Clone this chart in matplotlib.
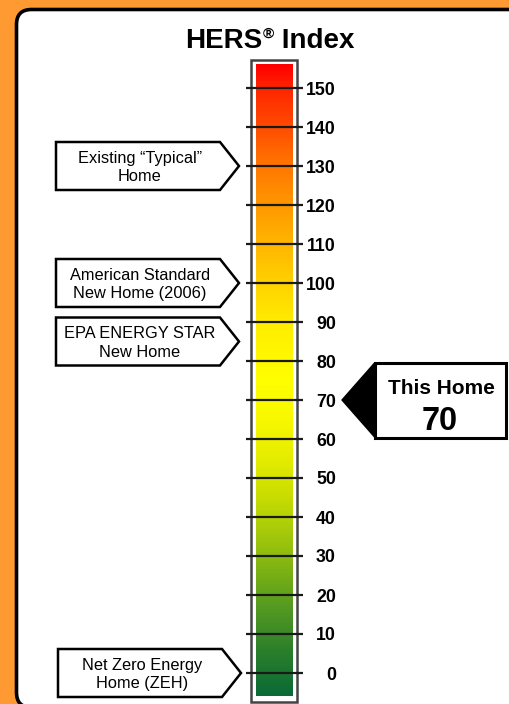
import numpy as np
import matplotlib
matplotlib.use("Agg")
import matplotlib.pyplot as plt
from matplotlib.patches import FancyBboxPatch, Rectangle, Polygon
from matplotlib.colors import LinearSegmentedColormap

plt.rcParams['font.family'] = ['Liberation Sans', 'DejaVu Sans']

# ---- data ----
title_main = "HERS"
title_sup = "®"
title_rest = " Index"
tick_values = [0, 10, 20, 30, 40, 50, 60, 70, 80, 90, 100, 110, 120, 130, 140, 150]
tick_labels = [str(v) for v in tick_values]
marker_labels = ["Existing \u201cTypical\u201d\nHome",
                 "American Standard\nNew Home (2006)",
                 "EPA ENERGY STAR\nNew Home",
                 "Net Zero Energy\nHome (ZEH)"]
marker_values = [130, 100, 85, 0]
this_home_label = "This Home"
this_home_value = 70
scale_min, scale_max = -6, 156
grad_values = [-6, 5, 15, 25, 35, 45, 55, 65, 75, 90, 100, 110, 120, 130, 140, 150, 156]
grad_colors = ['#0B6B36', '#2B7F2B', '#4F9722', '#78B015', '#A3C80A', '#C9DD02',
               '#E6ED00', '#F8F800', '#FFFF00', '#FFEC00', '#FFD200', '#FFB600',
               '#FF9800', '#FF7800', '#FF4D00', '#FF2600', '#FF0000']

# ---- figure ----
W, H = 510, 704
fig = plt.figure(figsize=(W / 100, H / 100), dpi=100)
fig.patch.set_facecolor('#FF9A33')

# background panel (pixel coordinates)
bg = fig.add_axes([0, 0, 1, 1])
bg.set_xlim(0, W)
bg.set_ylim(H, 0)
bg.axis('off')
bg.add_patch(FancyBboxPatch((16.5, 9.5), 540, 698, boxstyle="round,pad=0,rounding_size=15",
                            facecolor='white', edgecolor='black', lw=2.6))

# scale axes: x in pixels, y in HERS units
Y0_PX = 673.0     # pixel row of value 0
PX_PER_UNIT = 3.9
ax = fig.add_axes([0, 0, 1, 1])
ax.patch.set_alpha(0)
ax.axis('off')
ax.set_xlim(0, W)
ax.set_ylim((Y0_PX - H) / PX_PER_UNIT, Y0_PX / PX_PER_UNIT)
u = 1.0 / PX_PER_UNIT  # one pixel in value units

# title
fig.canvas.draw()
r = fig.canvas.get_renderer()
tfs = 20
ty = (Y0_PX - 47.5) * u
t1 = ax.text(185, ty, title_main, fontsize=tfs, fontweight='bold', ha='left', va='baseline')
ext = t1.get_window_extent(renderer=r)
x_sup = ax.transData.inverted().transform((ext.x1, 0))[0] + 0.5
t2 = ax.text(x_sup, ty + 9.5 * u, title_sup, fontsize=11, fontweight='bold', ha='left', va='baseline')
ext2 = t2.get_window_extent(renderer=r)
x_rest = ax.transData.inverted().transform((ext2.x1, 0))[0]
ax.text(x_rest, ty, title_rest, fontsize=tfs, fontweight='bold', ha='left', va='baseline')

# bar frame
top_frame = (Y0_PX - 60) * u
bot_frame = (Y0_PX - 702) * u
ax.add_patch(Rectangle((251, bot_frame), 46, top_frame - bot_frame,
                       facecolor='white', edgecolor='#444444', lw=1.8, zorder=2))

# gradient
cmap = LinearSegmentedColormap.from_list(
    'hers', [((v - scale_min) / (scale_max - scale_min), c) for v, c in zip(grad_values, grad_colors)])
grad = np.linspace(scale_min, scale_max, 400).reshape(-1, 1)
ax.imshow(grad, cmap=cmap, vmin=scale_min, vmax=scale_max, origin='lower',
          extent=[256, 293, scale_min, scale_max], aspect='auto', zorder=3)

# ticks and labels
ax.hlines(tick_values, 246, 303, colors='#1a1a1a', lw=1.6, zorder=4)
for v, lab in zip(tick_values, tick_labels):
    ax.text(336, v, lab, fontsize=12.8, fontweight='bold', ha='right', va='center_baseline', zorder=5)

# left marker boxes
half = 24 * u
for i, (lab, v) in enumerate(zip(marker_labels, marker_values)):
    x0, x1, xt = (56, 220, 239) if i < 3 else (58, 222, 241)
    poly = Polygon([(x0, v + half), (x1, v + half), (xt, v), (x1, v - half), (x0, v - half)],
                   closed=True, facecolor='white', edgecolor='black', lw=1.8, zorder=5)
    ax.add_patch(poly)
    ax.text((x0 + x1) / 2 + 2, v - 1.5 * u, lab, fontsize=11.8, ha='center', va='center',
            linespacing=1.3, zorder=6)

# This Home pointer
hv = this_home_value
hh = 37.5 * u
ax.add_patch(Polygon([(342, hv), (375, hv + hh), (375, hv - hh)], closed=True,
                     facecolor='black', edgecolor='black', lw=1, zorder=5))
ax.add_patch(Rectangle((375, hv - hh), 131, 2 * hh, facecolor='white', edgecolor='black',
                       lw=2.2, zorder=5))
ax.text(441, hv + 14 * u, this_home_label, fontsize=15, fontweight='bold', ha='center',
        va='center_baseline', zorder=6)
ax.text(440, hv - 18 * u, str(this_home_value), fontsize=23.5, fontweight='bold', ha='center',
        va='center_baseline', zorder=6)

fig.savefig('out.png', dpi=100, facecolor=fig.get_facecolor())
